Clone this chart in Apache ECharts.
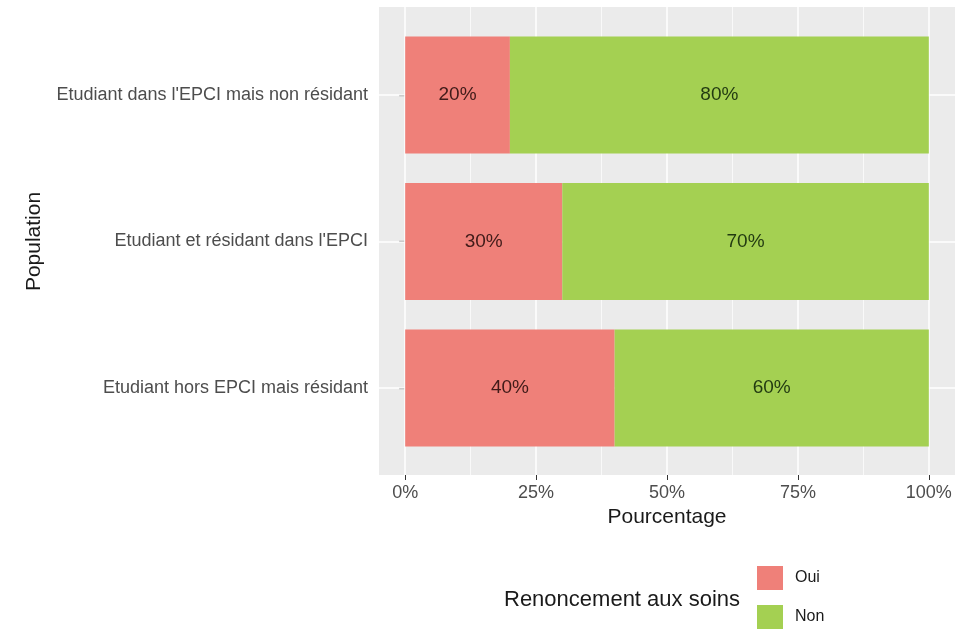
<!DOCTYPE html>
<html><head><meta charset="utf-8">
<script src="https://cdn.jsdelivr.net/npm/echarts@6/dist/echarts.min.js"></script>
<style>html,body{margin:0;padding:0;background:#fff}#c{width:969px;height:630px}</style>
</head><body><div id="c"></div>
<script>
const categories = ["Etudiant dans l'EPCI mais non résidant", "Etudiant et résidant dans l'EPCI", "Etudiant hors EPCI mais résidant"];
const seriesNames = ["Oui", "Non"];
const ouiValues = [20, 30, 40];
const nonValues = [80, 70, 60];
const xTicks = [0, 25, 50, 75, 100];
const xMinorTicks = [12.5, 37.5, 62.5, 87.5];

const FONT = "'Liberation Sans', Arial, sans-serif";
const chart = echarts.init(document.getElementById('c'), null, {renderer: 'canvas'});
const gridL = 379, gridR = 14;
const legendBase = {orient: 'vertical', left: 757, padding: 0, itemWidth: 26, itemHeight: 24, icon: 'rect',
  textStyle: {fontSize: 16, color: '#1a1a1a', fontFamily: FONT, padding: [0, 0, 0, 7]}};
chart.setOption({
  animation: false,
  backgroundColor: '#ffffff',
  textStyle: {fontFamily: FONT},
  grid: [
    {left: gridL, right: gridR, top: 7, height: 468, show: true, backgroundColor: '#EBEBEB', borderWidth: 0},
    {left: gridL, right: gridR, top: 21.75, height: 439.5}
  ],
  xAxis: [
    {type: 'value', gridIndex: 0, min: -5, max: 105,
     axisLine: {show: false}, splitLine: {show: false},
     axisTick: {show: true, customValues: xTicks, length: 5, lineStyle: {color: '#333', width: 1}},
     axisLabel: {customValues: xTicks, formatter: '{value}%', color: '#4D4D4D', fontSize: 18, margin: 9, fontFamily: FONT},
     name: 'Pourcentage', nameLocation: 'middle', nameGap: 29,
     nameTextStyle: {fontSize: 21, color: '#1a1a1a', fontFamily: FONT}},
    {type: 'value', gridIndex: 1, min: -5, max: 105, show: false}
  ],
  yAxis: [
    {type: 'value', gridIndex: 0, min: 0, max: 1, show: false},
    {type: 'category', gridIndex: 1, data: categories, inverse: true,
     axisLine: {show: false}, splitLine: {show: false},
     axisTick: {show: true, alignWithLabel: true, length: 6, lineStyle: {color: '#333', width: 1.2}},
     axisLabel: {color: '#4D4D4D', fontSize: 18, margin: 11, fontFamily: FONT},
     name: 'Population', nameLocation: 'middle', nameRotate: 90, nameGap: 334,
     nameTextStyle: {fontSize: 21, color: '#1a1a1a', fontFamily: FONT}}
  ],
  title: {text: 'Renoncement aux soins', left: 504, top: 589, padding: 0,
          textStyle: {fontSize: 22, fontWeight: 'normal', color: '#1a1a1a', fontFamily: FONT}},
  legend: [
    Object.assign({}, legendBase, {top: 566, data: [seriesNames[0]]}),
    Object.assign({}, legendBase, {top: 605, data: [seriesNames[1]]})
  ],
  series: [
    {type: 'scatter', xAxisIndex: 0, yAxisIndex: 0, data: [], silent: true, z: 1,
     markLine: {silent: true, z: 1, symbol: 'none', label: {show: false}, animation: false,
       data: xTicks.map(v => ({xAxis: v, lineStyle: {color: '#fff', width: 1.5, type: 'solid'}}))
         .concat(xMinorTicks.map(v => ({xAxis: v, lineStyle: {color: '#fff', width: 0.7, type: 'solid'}})))}},
    {type: 'scatter', xAxisIndex: 1, yAxisIndex: 1, data: [], silent: true, z: 1,
     markLine: {silent: true, z: 1, symbol: 'none', label: {show: false}, animation: false,
       data: categories.map(c => ({yAxis: c, lineStyle: {color: '#fff', width: 1.5, type: 'solid'}}))}},
    {name: seriesNames[0], type: 'bar', stack: 'a', xAxisIndex: 1, yAxisIndex: 1, data: ouiValues,
     barWidth: '80%', z: 3, itemStyle: {color: '#EF8079'},
     label: {show: true, position: 'inside', formatter: '{c}%', fontSize: 19, color: 'rgba(20,0,0,0.8)', fontFamily: FONT}},
    {name: seriesNames[1], type: 'bar', stack: 'a', xAxisIndex: 1, yAxisIndex: 1, data: nonValues,
     barWidth: '80%', z: 3, itemStyle: {color: '#A4D052'},
     label: {show: true, position: 'inside', formatter: '{c}%', fontSize: 19, color: 'rgba(0,20,0,0.8)', fontFamily: FONT}}
  ]
});
</script></body></html>
